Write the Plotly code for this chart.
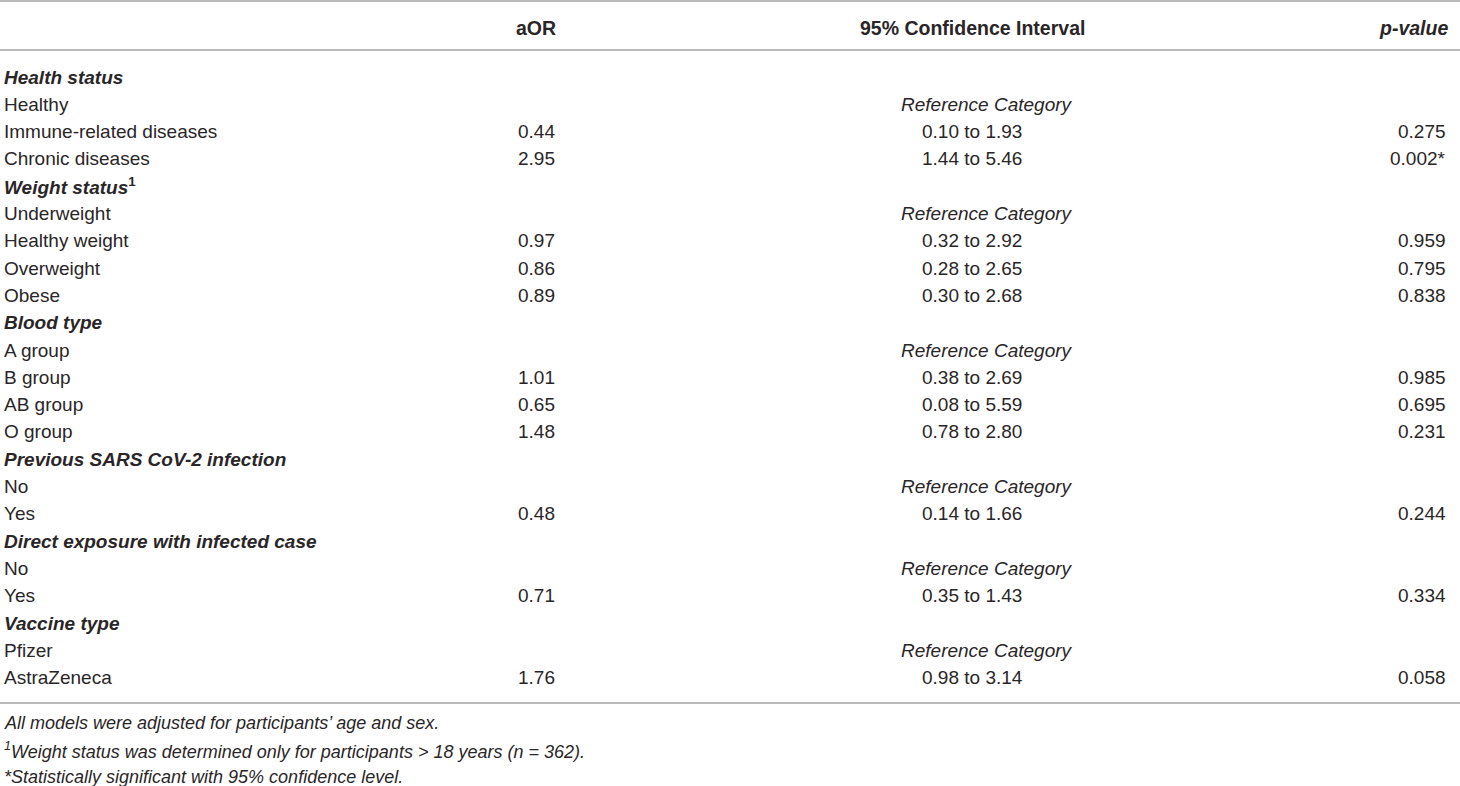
import plotly.graph_objects as go

# ---------------- data ----------------
header = ["", "aOR", "95% Confidence Interval", "p-value"]
groups = ["Health status", "Weight status", "Blood type",
          "Previous SARS CoV-2 infection", "Direct exposure with infected case",
          "Vaccine type"]
group_notes = ["", "1", "", "", "", ""]
group_sizes = [3, 4, 4, 2, 2, 2]
categories = ["Healthy", "Immune-related diseases", "Chronic diseases",
              "Underweight", "Healthy weight", "Overweight", "Obese",
              "A group", "B group", "AB group", "O group",
              "No", "Yes",
              "No", "Yes",
              "Pfizer", "AstraZeneca"]
aor = [None, 0.44, 2.95,
       None, 0.97, 0.86, 0.89,
       None, 1.01, 0.65, 1.48,
       None, 0.48,
       None, 0.71,
       None, 1.76]
ci_low = [None, 0.10, 1.44,
          None, 0.32, 0.28, 0.30,
          None, 0.38, 0.08, 0.78,
          None, 0.14,
          None, 0.35,
          None, 0.98]
ci_high = [None, 1.93, 5.46,
           None, 2.92, 2.65, 2.68,
           None, 2.69, 5.59, 2.80,
           None, 1.66,
           None, 1.43,
           None, 3.14]
p_values = [None, 0.275, 0.002,
            None, 0.959, 0.795, 0.838,
            None, 0.985, 0.695, 0.231,
            None, 0.244,
            None, 0.334,
            None, 0.058]
reference_text = "Reference Category"
footnotes = ["All models were adjusted for participants\u2019 age and sex.",
             "<sup>1</sup>Weight status was determined only for participants > 18 years (n = 362).",
             "*Statistically significant with 95% confidence level."]
alpha = 0.05

# ---------------- layout constants ----------------
W, H = 1460, 786
FONT = "Liberation Sans, Arial, sans-serif"
TXT = "#2a2627"
RULE = "#a3a3a3"
FS = 19
FS_HEAD = 19.5
FS_FOOT = 18
X_LABEL = 2
X_AOR = 536
X_CI = 972
X_REF = 987
X_P = 1448
Y_HEAD = 28
Y_ROW0 = 77
ROW_H = 27.3
Y_RULES = [1, 50, 703]
Y_FOOT0 = 723
FOOT_H = 27

ann = []


def add(x, y, text, anchor="left", size=FS):
    ann.append(dict(x=x, y=y, xref="x", yref="y", text=text, showarrow=False,
                    xanchor=anchor, yanchor="middle",
                    font=dict(family=FONT, size=size, color=TXT)))


# header
add(X_AOR, Y_HEAD, "<b>" + header[1] + "</b>", "center", FS_HEAD)
add(X_CI, Y_HEAD, "<b>" + header[2] + "</b>", "center", FS_HEAD)
add(X_P + 2, Y_HEAD, "<b><i>" + header[3] + "</i></b>", "right", FS_HEAD)

row = 0
k = 0
for g, note, n in zip(groups, group_notes, group_sizes):
    y = Y_ROW0 + ROW_H * row
    t = "<b><i>" + g + "</i>" + ("<sup>" + note + "</sup>" if note else "") + "</b>"
    add(X_LABEL, y, t, "left")
    row += 1
    for _ in range(n):
        y = Y_ROW0 + ROW_H * row
        add(X_LABEL, y, categories[k], "left")
        if aor[k] is None:
            add(X_REF, y, "<i>" + reference_text + "</i>", "center")
        else:
            add(X_AOR, y, f"{aor[k]:.2f}", "center")
            add(X_CI, y, f"{ci_low[k]:.2f} to {ci_high[k]:.2f}", "center")
            ptxt = f"{p_values[k]:.3f}" + ("*" if p_values[k] < alpha else "")
            add(X_P, y, ptxt, "right")
        row += 1
        k += 1

for i, f in enumerate(footnotes):
    add(X_LABEL, Y_FOOT0 + FOOT_H * i, "<i>" + f + "</i>", "left", FS_FOOT)

shapes = [dict(type="line", xref="x", yref="y", x0=0, x1=W, y0=yy, y1=yy,
               line=dict(color=RULE, width=1.6)) for yy in Y_RULES]

fig = go.Figure()
fig.update_layout(
    width=W, height=H,
    margin=dict(l=0, r=0, t=0, b=0),
    paper_bgcolor="white", plot_bgcolor="white",
    xaxis=dict(range=[0, W], visible=False, fixedrange=True),
    yaxis=dict(range=[H, 0], visible=False, fixedrange=True),
    annotations=ann, shapes=shapes, showlegend=False,
)
fig.write_html(
    "out.html",
    config={"displayModeBar": False},
    post_script="document.body.style.margin='0';document.body.style.padding='0';"
                "document.body.style.overflow='hidden';",
)
